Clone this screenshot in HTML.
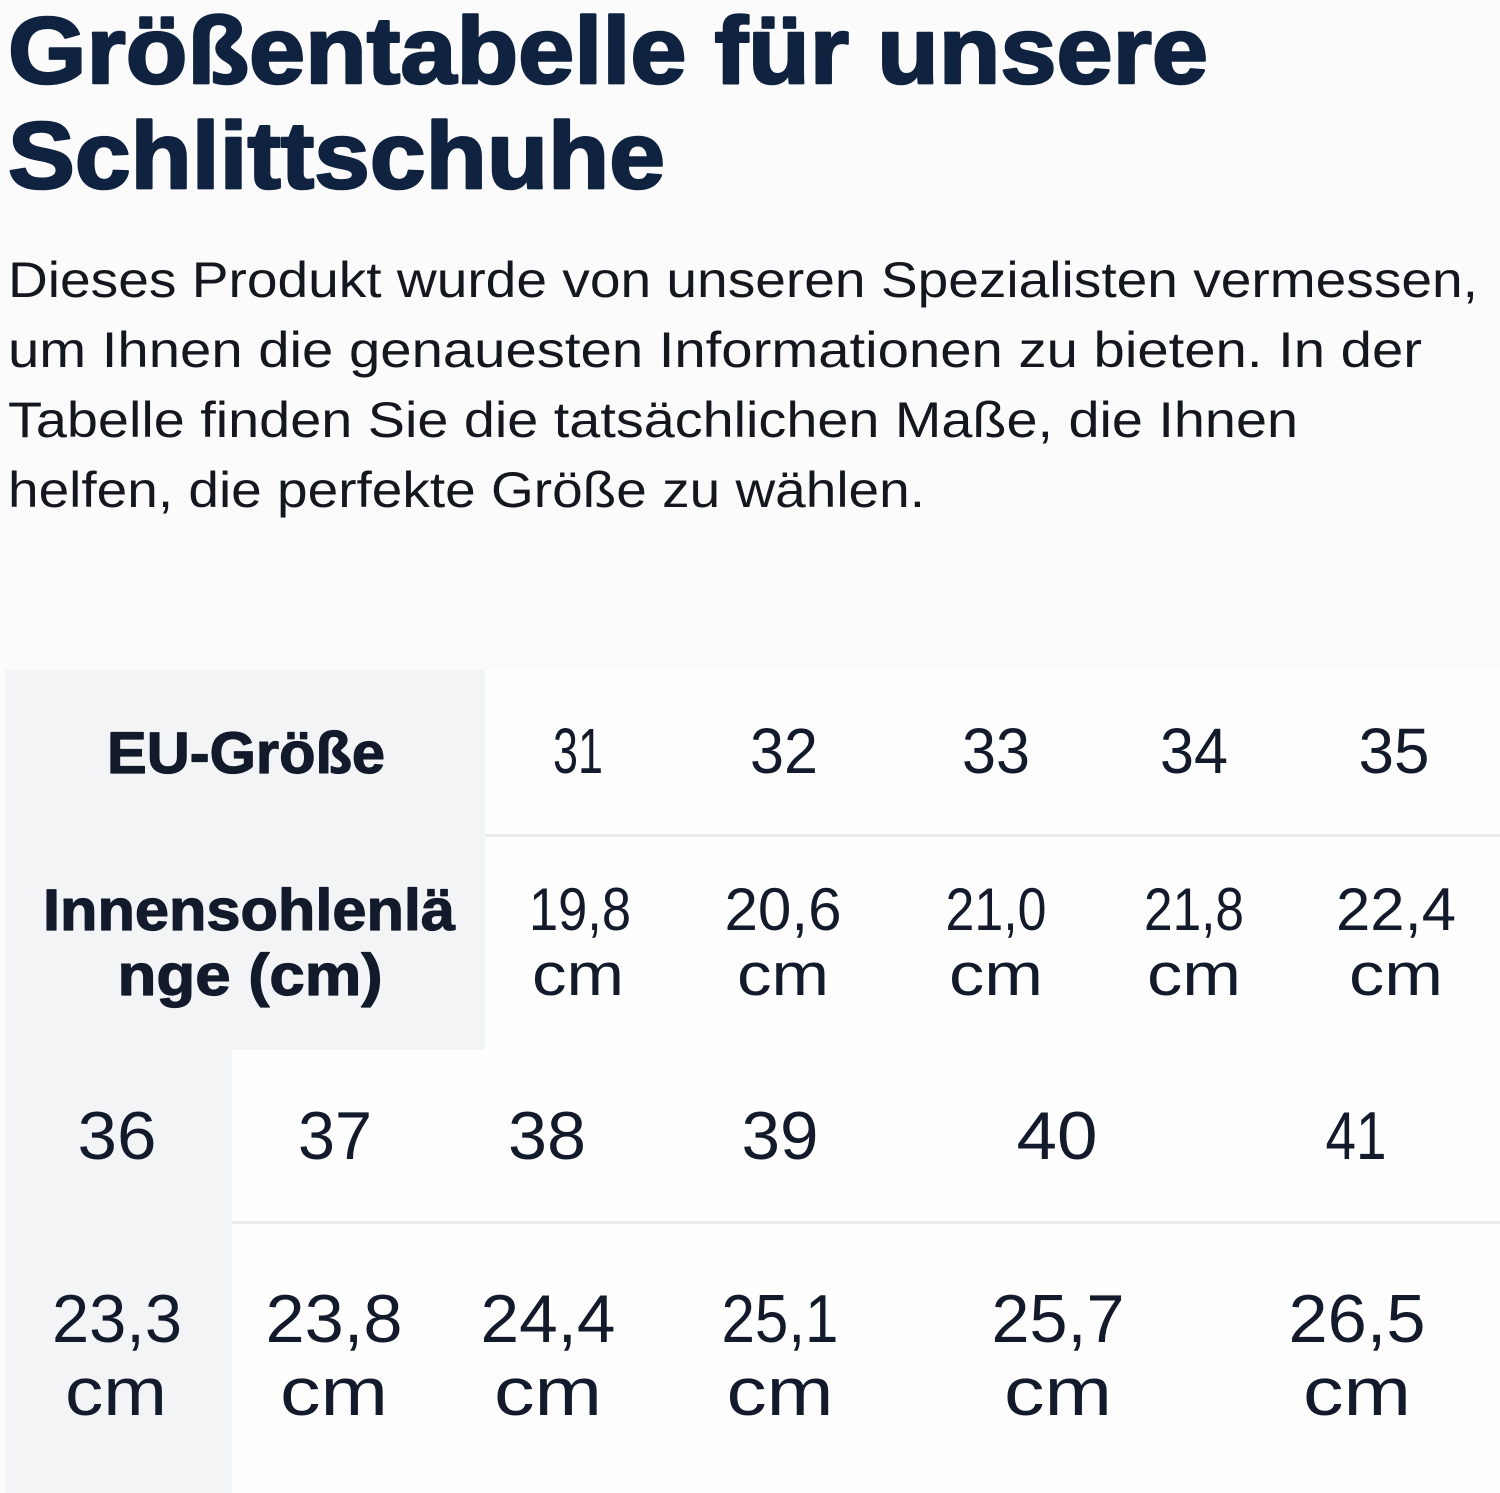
<!DOCTYPE html>
<html>
<head>
<meta charset="utf-8">
<style>
  html, body { margin: 0; padding: 0; background: #fbfbfb; }
  svg { display: block; }
  .t { font-family: "Liberation Sans", Arial, sans-serif; }
</style>
</head>
<body>
<svg width="1500" height="1493" viewBox="0 0 1500 1493" xmlns="http://www.w3.org/2000/svg">
  <rect x="0" y="0" width="1500" height="1493" fill="#fbfbfb"/>

  <!-- Title -->
  <g class="t" font-weight="bold" font-size="95" fill="#0f2341" stroke="#0f2341" stroke-width="2.5" stroke-linejoin="round">
    <text x="8" y="83" textLength="1200" lengthAdjust="spacingAndGlyphs">Größentabelle für unsere</text>
    <text x="8" y="188" textLength="657" lengthAdjust="spacingAndGlyphs">Schlittschuhe</text>
  </g>

  <!-- Paragraph -->
  <g class="t" font-size="50" fill="#15171f">
    <text x="8" y="297" textLength="1470" lengthAdjust="spacingAndGlyphs">Dieses Produkt wurde von unseren Spezialisten vermessen,</text>
    <text x="8" y="367" textLength="1414" lengthAdjust="spacingAndGlyphs">um Ihnen die genauesten Informationen zu bieten. In der</text>
    <text x="8" y="437" textLength="1290" lengthAdjust="spacingAndGlyphs">Tabelle finden Sie die tatsächlichen Maße, die Ihnen</text>
    <text x="8" y="507" textLength="917" lengthAdjust="spacingAndGlyphs">helfen, die perfekte Größe zu wählen.</text>
  </g>

  <!-- Table backgrounds -->
  <rect x="485" y="670" width="1015" height="380" fill="#fefefe"/>
  <rect x="232" y="1050" width="1268" height="443" fill="#fefefe"/>
  <rect x="5" y="670" width="480" height="380" fill="#f3f4f5"/>
  <rect x="5" y="1050" width="227" height="443" fill="#f3f4f5"/>
  <rect x="485" y="834" width="1015" height="3" fill="#ececed"/>
  <rect x="232" y="1221" width="1268" height="3" fill="#ececed"/>

  <!-- Table 1 -->
  <g class="t" fill="#121a2b" text-anchor="middle">
    <g font-weight="bold" stroke="#121a2b" stroke-width="1.2" stroke-linejoin="round">
      <text x="246" y="773" font-size="58" textLength="278" lengthAdjust="spacingAndGlyphs">EU-Größe</text>
      <text x="249" y="930" font-size="58" textLength="412" lengthAdjust="spacingAndGlyphs">Innensohlenlä</text>
      <text x="250" y="995" font-size="58" textLength="265" lengthAdjust="spacingAndGlyphs">nge (cm)</text>
    </g>

    <g font-size="64">
      <text x="578" y="773" textLength="50" lengthAdjust="spacingAndGlyphs">31</text>
      <text x="784" y="773" textLength="68" lengthAdjust="spacingAndGlyphs">32</text>
      <text x="996" y="773" textLength="68" lengthAdjust="spacingAndGlyphs">33</text>
      <text x="1194" y="773" textLength="68" lengthAdjust="spacingAndGlyphs">34</text>
      <text x="1394" y="773" textLength="71" lengthAdjust="spacingAndGlyphs">35</text>
    </g>
    <g font-size="60">
      <text x="580" y="930" textLength="102" lengthAdjust="spacingAndGlyphs">19,8</text>
      <text x="783" y="930" textLength="117" lengthAdjust="spacingAndGlyphs">20,6</text>
      <text x="996" y="930" textLength="101" lengthAdjust="spacingAndGlyphs">21,0</text>
      <text x="1194" y="930" textLength="100" lengthAdjust="spacingAndGlyphs">21,8</text>
      <text x="1396" y="930" textLength="120" lengthAdjust="spacingAndGlyphs">22,4</text>
      <text x="578" y="995" textLength="92" lengthAdjust="spacingAndGlyphs">cm</text>
      <text x="783" y="995" textLength="92" lengthAdjust="spacingAndGlyphs">cm</text>
      <text x="996" y="995" textLength="94" lengthAdjust="spacingAndGlyphs">cm</text>
      <text x="1194" y="995" textLength="94" lengthAdjust="spacingAndGlyphs">cm</text>
      <text x="1396" y="995" textLength="94" lengthAdjust="spacingAndGlyphs">cm</text>
    </g>
  </g>

  <!-- Table 2 -->
  <g class="t" fill="#121a2b" text-anchor="middle" font-size="68">
    <text x="117" y="1159" textLength="79" lengthAdjust="spacingAndGlyphs">36</text>
    <text x="335" y="1159" textLength="74" lengthAdjust="spacingAndGlyphs">37</text>
    <text x="547" y="1159" textLength="78" lengthAdjust="spacingAndGlyphs">38</text>
    <text x="780" y="1159" textLength="77" lengthAdjust="spacingAndGlyphs">39</text>
    <text x="1057" y="1159" textLength="81" lengthAdjust="spacingAndGlyphs">40</text>
    <text x="1356" y="1159" textLength="61" lengthAdjust="spacingAndGlyphs">41</text>

    <text x="117" y="1342" textLength="130" lengthAdjust="spacingAndGlyphs">23,3</text>
    <text x="334" y="1342" textLength="137" lengthAdjust="spacingAndGlyphs">23,8</text>
    <text x="548" y="1342" textLength="135" lengthAdjust="spacingAndGlyphs">24,4</text>
    <text x="780" y="1342" textLength="117" lengthAdjust="spacingAndGlyphs">25,1</text>
    <text x="1058" y="1342" textLength="133" lengthAdjust="spacingAndGlyphs">25,7</text>
    <text x="1357" y="1342" textLength="137" lengthAdjust="spacingAndGlyphs">26,5</text>

    <text x="116" y="1415" textLength="102" lengthAdjust="spacingAndGlyphs">cm</text>
    <text x="334" y="1415" textLength="108" lengthAdjust="spacingAndGlyphs">cm</text>
    <text x="548" y="1415" textLength="108" lengthAdjust="spacingAndGlyphs">cm</text>
    <text x="780" y="1415" textLength="107" lengthAdjust="spacingAndGlyphs">cm</text>
    <text x="1058" y="1415" textLength="108" lengthAdjust="spacingAndGlyphs">cm</text>
    <text x="1357" y="1415" textLength="108" lengthAdjust="spacingAndGlyphs">cm</text>
  </g>
</svg>
</body>
</html>
